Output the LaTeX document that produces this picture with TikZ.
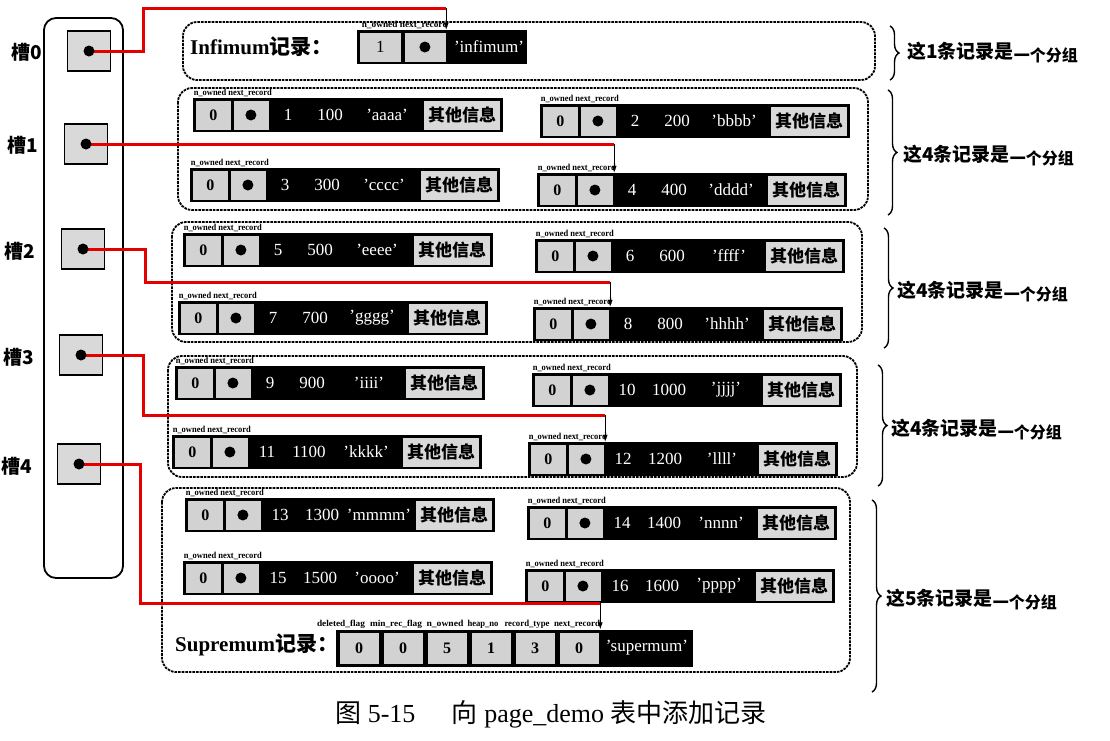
\documentclass[tikz,border=0pt]{standalone}
\usepackage{fontspec}
\usepackage{graphicx}
\setmainfont{Liberation Serif}
\newfontfamily\cjk{Noto Sans CJK SC}
\usetikzlibrary{arrows.meta,decorations.pathreplacing}

\newcommand{\tinytxt}[2]{\resizebox{#1}{6.3pt}{\bfseries #2}}

\tikzset{
  recbar/.style={fill=black, inner sep=0pt, minimum height=34pt},
  cellbox/.style={fill=gray!35, draw=black, line width=0.6pt, inner sep=0pt,
    minimum width=36pt, minimum height=30pt, font=\fontsize{16}{16}\selectfont\bfseries},
  valtxt/.style={text=white, inner sep=0pt, font=\fontsize{17}{17}\selectfont},
  infobox/.style={fill=gray!30, inner sep=0pt, minimum width=76pt, minimum height=29pt,
    font=\fontsize{17}{17}\selectfont\cjk\bfseries},
  tinylbl/.style={inner sep=0.6pt},
  grp/.style={draw, dash pattern=on 2.6pt off 1pt, line width=1.8pt, rounded corners=14pt},
  slotbox/.style={draw, line width=1.8pt, fill=gray!30, minimum width=43pt, minimum height=40pt, inner sep=0pt},
  slotdot/.style={circle, fill=black, inner sep=0pt, minimum size=11pt},
  slotlbl/.style={font=\fontsize{19}{19}\selectfont\cjk\bfseries},
  redptr/.style={draw=red!90!black, line width=3pt},
  ptrarrow/.style={-{Latex[length=7pt,width=5pt]}, line width=0.8pt},
  brc/.style={decorate, decoration={brace, amplitude=9pt}, line width=1.4pt},
  grplbl/.style={anchor=west, inner sep=0pt, font=\fontsize{19}{19}\selectfont\cjk\bfseries},
  reclbl/.style={anchor=west, inner sep=0pt, font=\fontsize{21}{21}\selectfont\bfseries},
}

% #1 name, #2 left x, #3 centre y, #4 id, #5 number, #6 string
\newcommand{\myrec}[6]{%
  \node[recbar, minimum width=310pt, anchor=west] (#1) at (#2,#3) {};
  \node[cellbox, anchor=west] (#1n) at ([xshift=2pt]#1.west) {0};
  \node[cellbox, anchor=west] (#1p) at ([xshift=1pt]#1n.east) {};
  \node[slotdot] (#1d) at (#1p.center) {};
  \node[valtxt] (#1i) at ([xshift=95pt]#1.west) {#4};
  \node[valtxt] (#1m) at ([xshift=137pt]#1.west) {#5};
  \node[valtxt] (#1s) at ([xshift=194pt]#1.west) {#6};
  \node[infobox, anchor=east] (#1o) at ([xshift=-3pt]#1.east) {其他信息};
  \node[tinylbl, anchor=south west] (#1l) at (#1.north west) {\tinytxt{78pt}{n\_owned next\_record}};
}

\begin{document}
\begin{tikzpicture}[x=1pt,y=-1pt]
\useasboundingbox (0,0) rectangle (1110,740);

% ---------- slot directory ----------
\draw[line width=1.8pt, rounded corners=12pt] (44,18) rectangle (123,578);
\node[slotbox] (b0) at (89,51) {};
\node[slotbox] (b1) at (86,144) {};
\node[slotbox] (b2) at (83,249) {};
\node[slotbox] (b3) at (81,355) {};
\node[slotbox] (b4) at (79,464) {};
\node[slotlbl] (l0) at (27,52) {槽0};
\node[slotlbl] (l1) at (23,145) {槽1};
\node[slotlbl] (l2) at (20,251) {槽2};
\node[slotlbl] (l3) at (19,357) {槽3};
\node[slotlbl] (l4) at (17,466) {槽4};

% ---------- groups ----------
\draw[grp] (183,22) rectangle (875,80);
\draw[grp] (178,88) rectangle (868,210);
\draw[grp] (172,222) rectangle (862,342);
\draw[grp] (168,356) rectangle (857,477);
\draw[grp] (162,488) rectangle (850,672);

% ---------- infimum ----------
\node[reclbl] (inflbl) at (190,47) {Infimum{\cjk\bfseries 记录：}};
\node[recbar, minimum width=170pt, anchor=west] (inf) at (357,47) {};
\node[cellbox, minimum width=42pt, anchor=west, font=\fontsize{17}{17}\selectfont] (infn) at ([xshift=2pt]inf.west) {1};
\node[cellbox, minimum width=42pt, anchor=west] (infp) at ([xshift=2pt]infn.east) {};
\node[slotdot] (infd) at (infp.center) {};
\node[valtxt] (infs) at (489,47) {'infimum'};
\node[tinylbl, anchor=south west] (infl) at ([xshift=4pt]inf.north west) {\tinytxt{86pt}{n\_owned next\_record}};

% ---------- user records ----------
\myrec{r1}{193}{115}{1}{100}{'aaaa'}
\myrec{r2}{540}{121}{2}{200}{'bbbb'}
\myrec{r3}{190}{185}{3}{300}{'cccc'}
\myrec{r4}{537}{190}{4}{400}{'dddd'}
\myrec{r5}{183}{250}{5}{500}{'eeee'}
\myrec{r6}{535}{256}{6}{600}{'ffff'}
\myrec{r7}{178}{318}{7}{700}{'gggg'}
\myrec{r8}{533}{324}{8}{800}{'hhhh'}
\myrec{r9}{175}{383}{9}{900}{'iiii'}
\myrec{r10}{532}{390}{10}{1000}{'jjjj'}
\myrec{r11}{172}{452}{11}{1100}{'kkkk'}
\myrec{r12}{528}{459}{12}{1200}{'llll'}
\myrec{r13}{185}{515}{13}{1300}{'mmmm'}
\myrec{r14}{527}{523}{14}{1400}{'nnnn'}
\myrec{r15}{183}{578}{15}{1500}{'oooo'}
\myrec{r16}{525}{586}{16}{1600}{'pppp'}

% ---------- supremum ----------
\node[reclbl] (suplbl) at (175,645) {Supremum{\cjk\bfseries 记录：}};
\node[recbar, minimum width=357pt, minimum height=37pt, anchor=west] (sup) at (336,648) {};
\foreach \v [count=\i] in {0,0,5,1,3,0}
  \node[cellbox, minimum width=40pt, minimum height=32pt] (sc\i) at ({339+20+(\i-1)*44},648) {\v};
\node[valtxt] (sups) at (647,648) {'supermum'};
\node[tinylbl, anchor=south] (sl1) at (341,629) {\tinytxt{48pt}{deleted\_flag}};
\node[tinylbl, anchor=south] (sl2) at (396,629) {\tinytxt{52pt}{min\_rec\_flag}};
\node[tinylbl, anchor=south] (sl3) at (445,629) {\tinytxt{37pt}{n\_owned}};
\node[tinylbl, anchor=south] (sl4) at (483,629) {\tinytxt{31pt}{heap\_no}};
\node[tinylbl, anchor=south] (sl5) at (527,629) {\tinytxt{45pt}{record\_type}};
\node[tinylbl, anchor=south] (sl6) at (577,629) {\tinytxt{46pt}{next\_record}};

% ---------- pointers ----------
\coordinate (t0) at (inf.north -| infp.east);
\coordinate (t1) at ([xshift=1pt]r4.north -| r4p.east);
\coordinate (t2) at ([xshift=1pt]r8.north -| r8p.east);
\coordinate (t3) at ([xshift=1pt]r12.north -| r12p.east);
\coordinate (t4) at ([xshift=1pt]sup.north -| sc6.east);
\coordinate (j0) at (143,8);
\coordinate (j2) at (145,282);
\coordinate (j3) at (143,415);
\coordinate (j4) at (140,603);
\coordinate (h0) at (t0 |- j0);
\coordinate (h1) at (t1 |- b1.center);
\coordinate (h2) at (t2 |- j2);
\coordinate (h3) at (t3 |- j3);
\coordinate (h4) at (t4 |- j4);

\draw[redptr] (b0.center) -| (j0) -- (h0);
\draw[redptr] (b1.center) -- (h1);
\draw[redptr] (b2.center) -| (j2) -- (h2);
\draw[redptr] (b3.center) -| (j3) -- (h3);
\draw[redptr] (b4.center) -| (j4) -- (h4);
\draw[ptrarrow] (h0) -- (t0);
\draw[ptrarrow] (h1) -- (t1);
\draw[ptrarrow] (h2) -- (t2);
\draw[ptrarrow] (h3) -- (t3);
\draw[ptrarrow] (h4) -- (t4);

\node[slotdot] (d0) at (b0.center) {};
\node[slotdot] (d1) at (b1.center) {};
\node[slotdot] (d2) at (b2.center) {};
\node[slotdot] (d3) at (b3.center) {};
\node[slotdot] (d4) at (b4.center) {};

% ---------- braces and group labels ----------
\draw[brc] (890,26) -- (890,80);
\draw[brc] (888,90) -- (888,215);
\draw[brc] (884,228) -- (884,348);
\draw[brc] (878,365) -- (878,486);
\draw[brc] (872,500) -- (872,692);
\node[grplbl] (g0) at (907,53) {这1条记录是\raisebox{-3pt}{\fontsize{16}{16}\selectfont 一个分组}};
\node[grplbl] (g1) at (903,156) {这4条记录是\raisebox{-3pt}{\fontsize{16}{16}\selectfont 一个分组}};
\node[grplbl] (g2) at (897,292) {这4条记录是\raisebox{-3pt}{\fontsize{16}{16}\selectfont 一个分组}};
\node[grplbl] (g3) at (891,430) {这4条记录是\raisebox{-3pt}{\fontsize{16}{16}\selectfont 一个分组}};
\node[grplbl] (g4) at (886,600) {这5条记录是\raisebox{-3pt}{\fontsize{16}{16}\selectfont 一个分组}};

% ---------- caption ----------
\node[inner sep=0pt, font=\fontsize{26}{26}\selectfont] (cap) at (551,714) {{\cjk 图} 5-15\hspace{1.4em}{\cjk 向} page\_demo {\cjk 表中添加记录}};
\end{tikzpicture}
\end{document}
